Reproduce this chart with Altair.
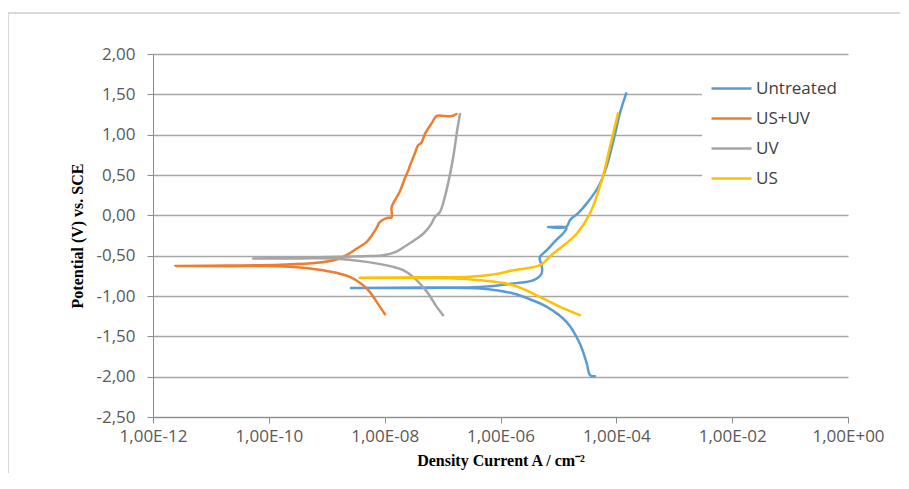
import altair as alt
import pandas as pd

series_names = ["Untreated", "US+UV", "UV", "US"]
series_colors = ["#5B9BD5", "#ED7D31", "#A5A5A5", "#FFC000"]

# Untreated (path: cathodic end -> Ecorr tip -> anodic end)
untreated_i = [4.27e-5, 3.51e-5, 3.09e-5, 2.34e-5, 1.38e-5, 6.31e-6, 3.2e-6, 1.66e-6, 4.47e-7, 4.07e-8, 2.63e-9,
               4.07e-8, 4.47e-7, 1.66e-6, 3.72e-6, 5.13e-6, 5.13e-6, 4.79e-6, 4.79e-6, 6.31e-6, 9.12e-6,
               1.20e-5, 1.38e-5, 1.30e-5, 7.2e-6, 6.61e-6, 7.2e-6, 1.30e-5, 1.45e-5, 1.58e-5, 2.19e-5,
               3.09e-5, 4.90e-5, 6.76e-5, 9.55e-5, 1.15e-4, 1.48e-4]
untreated_v = [-1.995, -1.98, -1.837, -1.589, -1.321, -1.135, -1.04, -0.969, -0.907, -0.90, -0.90,
               -0.894, -0.887, -0.845, -0.804, -0.72, -0.618, -0.556, -0.515, -0.432, -0.308,
               -0.225, -0.16, -0.146, -0.146, -0.146, -0.148, -0.150, -0.12, -0.06, 0.027,
               0.148, 0.354, 0.602, 1.016, 1.264, 1.512]

# US+UV
usuv_i = [1.01e-8, 8.3e-9, 4.9e-9, 2.5e-9, 1.0e-9, 3.47e-10, 1.38e-10, 2.14e-11, 2.4e-12,
          2.14e-11, 1.55e-10, 6.76e-10, 1.48e-9, 2.19e-9, 3.31e-9, 4.9e-9, 6.03e-9, 7.24e-9, 8.3e-9,
          1.07e-8, 1.32e-8, 1.32e-8, 1.82e-8, 2.24e-8, 2.57e-8, 2.75e-8, 3.24e-8, 3.80e-8, 4.27e-8,
          5.01e-8, 6.46e-8, 7.94e-8, 1.10e-7, 1.45e-7, 1.74e-7]
usuv_v = [-1.226, -1.135, -0.907, -0.763, -0.689, -0.646, -0.630, -0.630, -0.627,
          -0.622, -0.612, -0.589, -0.547, -0.494, -0.411, -0.329, -0.246, -0.159, -0.081,
          -0.035, -0.022, 0.102, 0.292, 0.462, 0.561, 0.623, 0.747, 0.871, 0.896,
          1.016, 1.14, 1.234, 1.231, 1.231, 1.256]

# UV
uv_i = [1.02e-7, 7.94e-8, 5.37e-8, 3.09e-8, 2.09e-8, 1.41e-8, 4.9e-9, 1.29e-9, 3.47e-10, 5.37e-11,
        3.47e-10, 1.70e-9, 5.5e-9, 9.55e-9, 1.6e-8, 2.40e-8, 3.4e-8, 4.68e-8, 6.2e-8, 7.41e-8, 9.02e-8,
        1.17e-7, 1.53e-7, 1.79e-7, 2.0e-7]
uv_v = [-1.238, -1.135, -0.949, -0.763, -0.68, -0.639, -0.577, -0.535, -0.535, -0.535,
        -0.525, -0.512, -0.505, -0.494, -0.45, -0.37, -0.30, -0.225, -0.12, -0.019, 0.043,
        0.313, 0.726, 1.057, 1.256]

# US
us_i = [2.34e-5, 1.07e-5, 4.79e-6, 1.66e-6, 4.47e-7, 1.35e-7, 1.82e-8, 3.72e-9,
        4.07e-8, 2.95e-7, 7.94e-7, 1.66e-6, 4.79e-6, 8.13e-6, 1.35e-5, 2.09e-5, 3.51e-5, 5.62e-5,
        7.76e-5, 1.07e-4]
us_v = [-1.238, -1.135, -1.011, -0.866, -0.804, -0.779, -0.773, -0.775,
        -0.767, -0.761, -0.73, -0.68, -0.618, -0.473, -0.35, -0.225, 0.024, 0.437,
        0.85, 1.264]

x_ticks = [1e-12, 1e-10, 1e-8, 1e-6, 1e-4, 1e-2, 1]
y_ticks = [-2.5, -2.0, -1.5, -1.0, -0.5, 0.0, 0.5, 1.0, 1.5, 2.0]

rows = []
for name, xs, ys in [("Untreated", untreated_i, untreated_v), ("US+UV", usuv_i, usuv_v),
                     ("UV", uv_i, uv_v), ("US", us_i, us_v)]:
    for k, (a, b) in enumerate(zip(xs, ys)):
        rows.append({"series": name, "i": k, "current": a, "potential": b})
df = pd.DataFrame(rows)

x_label = ("'1,00E' + (round(log(datum.value)/LN10) < 0 ? '-' : '+') + "
           "(abs(round(log(datum.value)/LN10)) < 10 ? '0' : '') + abs(round(log(datum.value)/LN10))")
y_label = "(datum.value < 0 ? '-' : '') + replace(format(abs(datum.value), '.2f'), '.', ',')"

lines = alt.Chart(df).mark_line(strokeWidth=2.5, strokeJoin="round", strokeCap="round",
                                interpolate="catmull-rom").encode(
    x=alt.X("current:Q",
            scale=alt.Scale(type="log", domain=[1e-12, 1], nice=False),
            axis=alt.Axis(values=x_ticks, labelExpr=x_label, grid=False,
                          labelFlush=False, labelOverlap=False,
                          title="Density Current A / cm⁻²",
                          domainColor="#8c8c8c", tickColor="#8c8c8c", tickSize=6,
                          labelPadding=5, titlePadding=8)),
    y=alt.Y("potential:Q",
            scale=alt.Scale(domain=[-2.5, 2.0], nice=False, zero=False),
            axis=alt.Axis(values=y_ticks, labelExpr=y_label, grid=True,
                          labelFlush=False, labelOverlap=False,
                          gridColor="#a6a6a6", gridWidth=1.4,
                          title="Potential (V) vs. SCE",
                          domainColor="#8c8c8c", tickColor="#8c8c8c", tickSize=6,
                          labelPadding=12, titlePadding=10)),
    color=alt.Color("series:N",
                    scale=alt.Scale(domain=series_names, range=series_colors),
                    legend=alt.Legend(title=None, orient="none", legendX=549, legendY=5,
                                      fillColor="white", padding=8,
                                      symbolType="stroke", symbolSize=1600,
                                      symbolStrokeWidth=2.5, rowPadding=-8,
                                      labelOffset=3, labelFontSize=17,
                                      labelFont="Open Sans", labelColor="#404040")),
    order=alt.Order("i:Q"),
)

# white legend backdrop hiding the gridlines behind the legend box
legend_bg = alt.Chart(df).mark_rect(color="white").encode(
    x=alt.value(549), x2=alt.value(697), y=alt.value(5), y2=alt.value(157))

frame_top = alt.Chart(df).mark_rule(color="#d9d9d9", strokeWidth=1).encode(
    x=alt.value(-145), x2=alt.value(747), y=alt.value(-41))
frame_left = alt.Chart(df).mark_rule(color="#d9d9d9", strokeWidth=1).encode(
    x=alt.value(-144.5), y=alt.value(-41), y2=alt.value(420))

chart = alt.layer(frame_top, frame_left, legend_bg, lines).properties(
    width=695, height=363,
    background="white",
    autosize=alt.AutoSizeParams(type="none"),
    padding={"left": 145, "top": 46, "right": 52, "bottom": 56},
).configure_view(stroke=None).configure_axis(
    labelFont="Open Sans", labelFontSize=17, labelColor="#595959",
    titleFont="Liberation Serif", titleFontSize=16, titleFontWeight="bold", titleColor="#000000",
)

chart.save("out.html", embed_options={"renderer": "svg", "actions": False})
